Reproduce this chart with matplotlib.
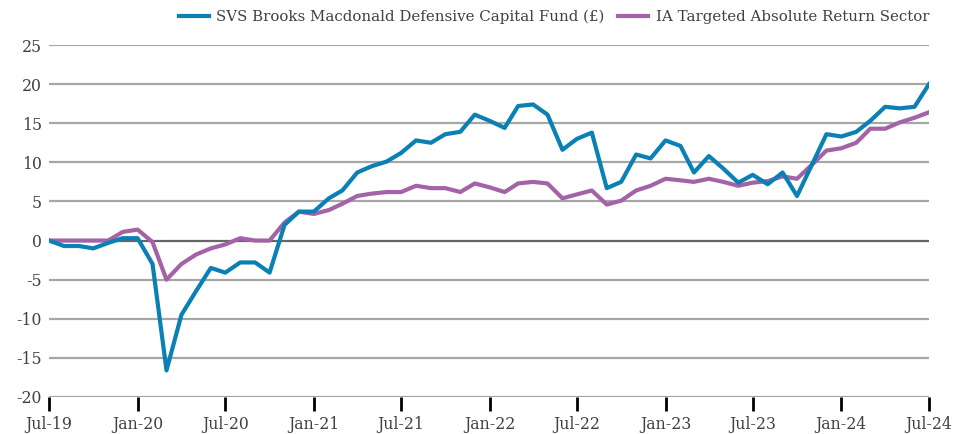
import numpy as np
import pandas as pd
import matplotlib
matplotlib.use('Agg')
import matplotlib.pyplot as plt

plt.rcParams['font.family'] = ['DejaVu Serif']
plt.rcParams['axes.unicode_minus'] = False

# Monthly cumulative performance (%), Jul-19 to Jul-24
months = pd.date_range('2019-07-01', '2024-07-01', freq='MS')

fund = [0.0, -0.7, -0.7, -1.0, -0.3, 0.3, 0.3, -3.0, -16.6, -9.5,
        -6.5, -3.5, -4.1, -2.8, -2.8, -4.1, 2.0, 3.7, 3.7, 5.4,
        6.4, 8.7, 9.5, 10.1, 11.2, 12.8, 12.5, 13.6, 13.9, 16.1,
        15.3, 14.4, 17.2, 17.4, 16.1, 11.6, 13.0, 13.8, 6.7, 7.5,
        11.0, 10.5, 12.8, 12.1, 8.7, 10.8, 9.2, 7.4, 8.4, 7.2,
        8.7, 5.7, 9.7, 13.6, 13.3, 13.9, 15.3, 17.1, 16.9, 17.1,
        20.0]

sector = [0.0, 0.0, 0.0, 0.0, 0.0, 1.1, 1.4, -0.2, -5.0, -3.0,
          -1.8, -1.0, -0.5, 0.3, 0.0, 0.0, 2.3, 3.7, 3.4, 3.9,
          4.7, 5.7, 6.0, 6.2, 6.2, 7.0, 6.7, 6.7, 6.2, 7.3,
          6.8, 6.2, 7.3, 7.5, 7.3, 5.4, 5.9, 6.4, 4.6, 5.1,
          6.4, 7.0, 7.9, 7.7, 7.5, 7.9, 7.5, 7.0, 7.4, 7.6,
          8.2, 7.9, 9.7, 11.5, 11.8, 12.5, 14.3, 14.3, 15.1, 15.7,
          16.4]

labels = ['SVS Brooks Macdonald Defensive Capital Fund (£)',
          'IA Targeted Absolute Return Sector']
colors = ['#0a80b4', '#a462a7']
yticks = np.arange(-20, 26, 5)

fs = 11.3

fig = plt.figure(figsize=(9.66, 4.34), dpi=100)
ax = fig.add_axes([0.0507, 0.0853, 0.911, 0.811])

# gridlines, zero line darker
for y in yticks:
    c = '#666666' if y == 0 else '#a6a6a6'
    ax.axhline(y, color=c, lw=1.6, zorder=1)

ax.plot(months, fund, color=colors[0], lw=3.0, label=labels[0], zorder=3)
ax.plot(months, sector, color=colors[1], lw=3.0, label=labels[1], zorder=2)

ax.set_xlim(months[0], months[-1])
ax.set_ylim(-20, 25)
ax.set_yticks(yticks)
ax.set_yticklabels([str(v) for v in yticks])

xt = months[::6]
ax.set_xticks(xt)
ax.set_xticklabels([d.strftime('%b-%y') for d in xt])

for s in ['top', 'right', 'left', 'bottom']:
    ax.spines[s].set_visible(False)

ax.tick_params(axis='y', length=0, pad=5, labelsize=fs, labelcolor='#404040')
ax.tick_params(axis='x', direction='out', length=10, width=2, color='black',
               pad=4, labelsize=fs, labelcolor='#404040')

leg = ax.legend(loc='lower right', bbox_to_anchor=(1.0, 1.06), ncol=2,
                frameon=False, fontsize=10.8, handlelength=2.0,
                columnspacing=0.9, handletextpad=0.5, borderaxespad=0,
                borderpad=0)
for t in leg.get_texts():
    t.set_color('#404040')

fig.savefig('out.png', dpi=100)
